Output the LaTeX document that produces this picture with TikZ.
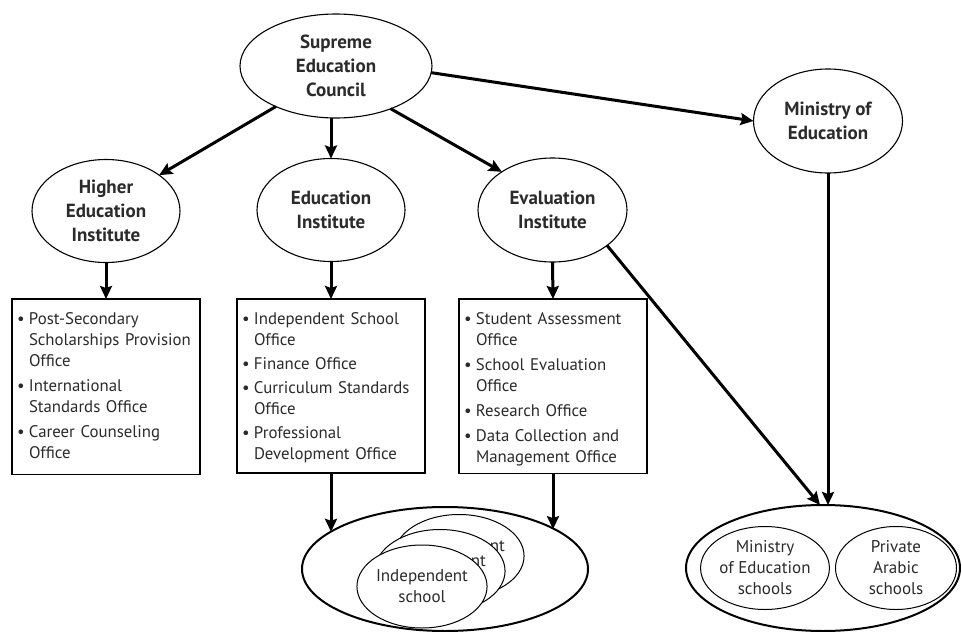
\documentclass[tikz,border=0pt]{standalone}
\usepackage{fontspec}
\setmainfont{PT Sans}
\usetikzlibrary{arrows.meta,shapes.geometric}
\definecolor{ink}{HTML}{2B2B2B}

% one bullet entry with a hanging indent
\newcommand\officeitem[1]{\par\hangindent=12pt\hangafter=1\noindent\makebox[12pt][l]{\textbullet}#1}
% no hyphenation inside the office lists
\newcommand\nohyphens{\hyphenpenalty=10000 \exhyphenpenalty=10000 }

\tikzset{
  unit/.style={ellipse, draw, line width=1.1pt, fill=white, text=ink,
    font=\fontsize{19}{24}\selectfont\bfseries, align=center,
    inner sep=0pt, outer sep=0pt},
  office/.style={draw, line width=1.2pt, text=ink,
    font=\fontsize{16.8}{21}\selectfont,
    execute at begin node={\nohyphens},
    text width=178pt, align=left,
    inner xsep=5pt, inner ysep=0pt, minimum width=188pt, minimum height=174pt,
    anchor=north west, outer sep=0pt},
  group/.style={ellipse, draw, line width=2pt, inner sep=0pt, outer sep=0pt},
  school/.style={ellipse, draw, line width=1pt, fill=white, text=ink,
    font=\fontsize{17}{21}\selectfont, align=center, inner sep=0pt,
    outer sep=0pt, minimum width=121pt, minimum height=83pt},
  link/.style={line width=3pt, -{Stealth[length=13pt,width=12pt,inset=2pt]}},
}

\begin{document}
\begin{tikzpicture}[x=1pt,y=-1pt]
\useasboundingbox[fill=white] (0,0) rectangle (962,632);

% governing bodies
\node[unit, minimum width=192pt, minimum height=104pt] (sec) at (336,66)
  {Supreme\\Education\\Council};
\node[unit, minimum width=148pt, minimum height=103pt] (hei) at (106,211)
  {Higher\\Education\\Institute};
\node[unit, minimum width=148pt, minimum height=103pt] (ei) at (331,210)
  {Education\\Institute};
\node[unit, minimum width=149pt, minimum height=104pt] (evi) at (552.5,210)
  {Evaluation\\Institute};
\node[unit, minimum width=149pt, minimum height=104pt] (moe) at (828,121)
  {Ministry of\\Education};

% offices of each institute
\node[office] (b1) at (12,299) {\setlength{\parskip}{4pt}%
  \officeitem{Post-Secondary Scholarships Provision Office}
  \officeitem{International Standards Office}
  \officeitem{Career Counseling Office}\par\kern16pt};
\node[office] (b2) at (237,299) {\setlength{\parskip}{3pt}%
  \officeitem{Independent School Office}
  \officeitem{Finance Office}
  \officeitem{Curriculum Standards Office}
  \officeitem{Professional Development Office}\par\kern8pt};
\node[office] (b3) at (459,299) {\setlength{\parskip}{4pt}%
  \officeitem{Student Assessment Office}
  \officeitem{School Evaluation Office}
  \officeitem{Research Office}
  \officeitem{Data Collection and Management Office}\par\kern8pt};

% independent schools
\node[group, minimum width=286pt, minimum height=124pt] (isch) at (445,569) {};
\node[school] (is3) at (459,556) {Independent\\school};
\node[school] (is2) at (440,571) {Independent\\school};
\node[school] (is1) at (422,586.5) {Independent\\school};

% ministry and private schools
\node[group, minimum width=274pt, minimum height=126pt] (psch) at (823,568) {};
\node[school, minimum width=120pt] (mes) at (765,568) {Ministry\\of Education\\schools};
\node[school] (pas) at (896,568) {Private\\Arabic\\schools};

% lines of authority
\draw[link] (sec.214.5) -- (hei.34.4);
\draw[link] (sec.south -| ei.north) -- (ei.north);
\draw[link] (sec.-38) -- (evi.143.5);
\draw[link] (sec.-4) -- (moe.west);
\draw[link] (hei.south) -- (b1.north);
\draw[link] (ei.south) -- (b2.north);
\draw[link] (evi.south) -- (b3.north);
\draw[link] (b2.south) -- (b2.south |- isch.162);
\draw[link] (b3.south) -- (b3.south |- isch.20);
\draw[link] (evi.-33.5) -- ([xshift=-3pt]psch.north);
\draw[link] (moe.south) -- (moe.south |- psch.north);
\end{tikzpicture}
\end{document}
